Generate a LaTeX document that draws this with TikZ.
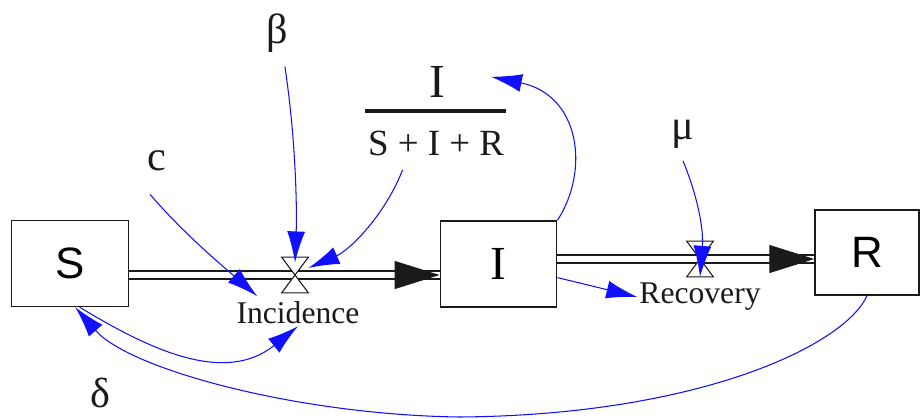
\documentclass[tikz,border=0pt]{standalone}
\usepackage{fontspec}
\setmainfont{Liberation Serif}
\setsansfont{Liberation Sans}
\usetikzlibrary{arrows.meta}
\definecolor{sfdInk}{HTML}{1A1A1A}
\definecolor{sfdBlue}{HTML}{1010FF}
\tikzset{
    sfd/stock/.style={
        rectangle, draw=sfdInk, fill=white, line width=0.8pt,
        minimum width=2.33cm, minimum height=1.72cm, inner sep=0pt
    },
    sfd/valve box/.style={
        rectangle, inner sep=0pt,
        minimum width=0.52cm, minimum height=0.7cm
    },
    sfd/valve/.style={
        draw=sfdInk, fill=white, line width=0.6pt
    },
    sfd/pipe/.style={
        draw=sfdInk, line width=0.035cm,
        double=white, double distance=0.13cm
    },
    sfd/pipe head/.style={
        draw=sfdInk, line width=0.6pt,
        -{Triangle[length=0.9cm,width=0.56cm]}
    },
    sfd/link/.style={
        draw=sfdBlue, line width=0.6pt,
        -{Latex[length=0.62cm,width=0.36cm]}
    },
    sfd/rate label/.style={
        font=\fontsize{18}{20}\selectfont, text=sfdInk, inner sep=1pt
    },
    sfd/constant/.style={
        font=\fontsize{24}{26}\selectfont, text=sfdInk, inner sep=1pt
    }
}

\begin{document}
\begin{tikzpicture}[x=0.02cm, y=-0.02cm]
    \useasboundingbox (0,0) rectangle (920,419);

    \node[sfd/stock, font=\sffamily\fontsize{25}{27}\selectfont] (S) at (70,263.5) {S};
    \node[sfd/stock, font=\fontsize{27}{29}\selectfont] (I) at (498.5,264) {I};
    \node[sfd/stock, minimum width=2.08cm, minimum height=1.7cm,
        font=\sffamily\fontsize{25}{27}\selectfont] (R) at (867,252.5) {R};

    \node[sfd/valve box] (incvalve) at (295,275) {};
    \node[sfd/valve box] (recvalve) at (700,259) {};
    \node[sfd/rate label] (incidence) at (298,313) {Incidence};
    \node[sfd/rate label] (recovery) at (700,297) {Recovery};

    \node[sfd/constant] (beta) at (277,33) {β};
    \node[sfd/constant] (contact) at (157,161) {c};
    \node[sfd/constant] (mu) at (683,134) {μ};
    \node[sfd/constant] (delta) at (100,393) {δ};
    \node[font=\fontsize{27}{29}\selectfont, text=sfdInk, inner sep=1pt]
        (fracnum) at (437,82) {I};
    \node[font=\fontsize{21}{23}\selectfont, text=sfdInk, inner sep=1pt]
        (fracden) at (436,143) {S + I + R};
    \draw[draw=sfdInk, line width=0.08cm] (365,111) -- (506,111);

    % flows
    \draw[sfd/pipe] (S.east |- incvalve) -- (I.west |- incvalve);
    \draw[sfd/pipe] (I.east |- recvalve) -- (R.west |- recvalve);
    \draw[sfd/valve] (incvalve.north west) -- (incvalve.north east)
        -- (incvalve.south west) -- (incvalve.south east) -- cycle;
    \draw[sfd/valve] (recvalve.north west) -- (recvalve.north east)
        -- (recvalve.south west) -- (recvalve.south east) -- cycle;
    \draw[sfd/pipe head] ([xshift=-2pt]I.west |- incvalve) -- (I.west |- incvalve);
    \draw[sfd/pipe head] ([xshift=-2pt]R.west |- recvalve) -- (R.west |- recvalve);

    % links
    \draw[sfd/link] ([xshift=4.5pt,yshift=-7pt]beta.south)
        .. controls (296,140) and (297,210) .. ([yshift=-3pt]incvalve.north);
    \draw[sfd/link] ([xshift=-4pt,yshift=-12pt]contact.south)
        .. controls (185,235) and (225,268) .. ([xshift=13pt,yshift=2pt]incidence.north west);
    \draw[sfd/link] ([xshift=-19pt,yshift=-7pt]fracden.south)
        .. controls (385,215) and (350,250) .. ([yshift=4pt]incvalve.east);
    \draw[sfd/link] (I.north east)
        .. controls (590,170) and (580,95) .. ([xshift=25pt,yshift=3pt]fracnum.east);
    \draw[sfd/link] ([yshift=-6pt]mu.south)
        .. controls (695,190) and (704,225) .. (recvalve.south);
    \draw[sfd/link] (I.-13) -- (recovery.west);
    \draw[sfd/link] ([xshift=5.5pt]S.south)
        .. controls (150,350) and (225,385) .. (incidence.south);
    \draw[sfd/link] (R.south)
        .. controls (845,345) and (700,415) .. (460,417)
        .. controls (300,415) and (130,370) .. ([xshift=3pt]S.south);
\end{tikzpicture}
\end{document}
